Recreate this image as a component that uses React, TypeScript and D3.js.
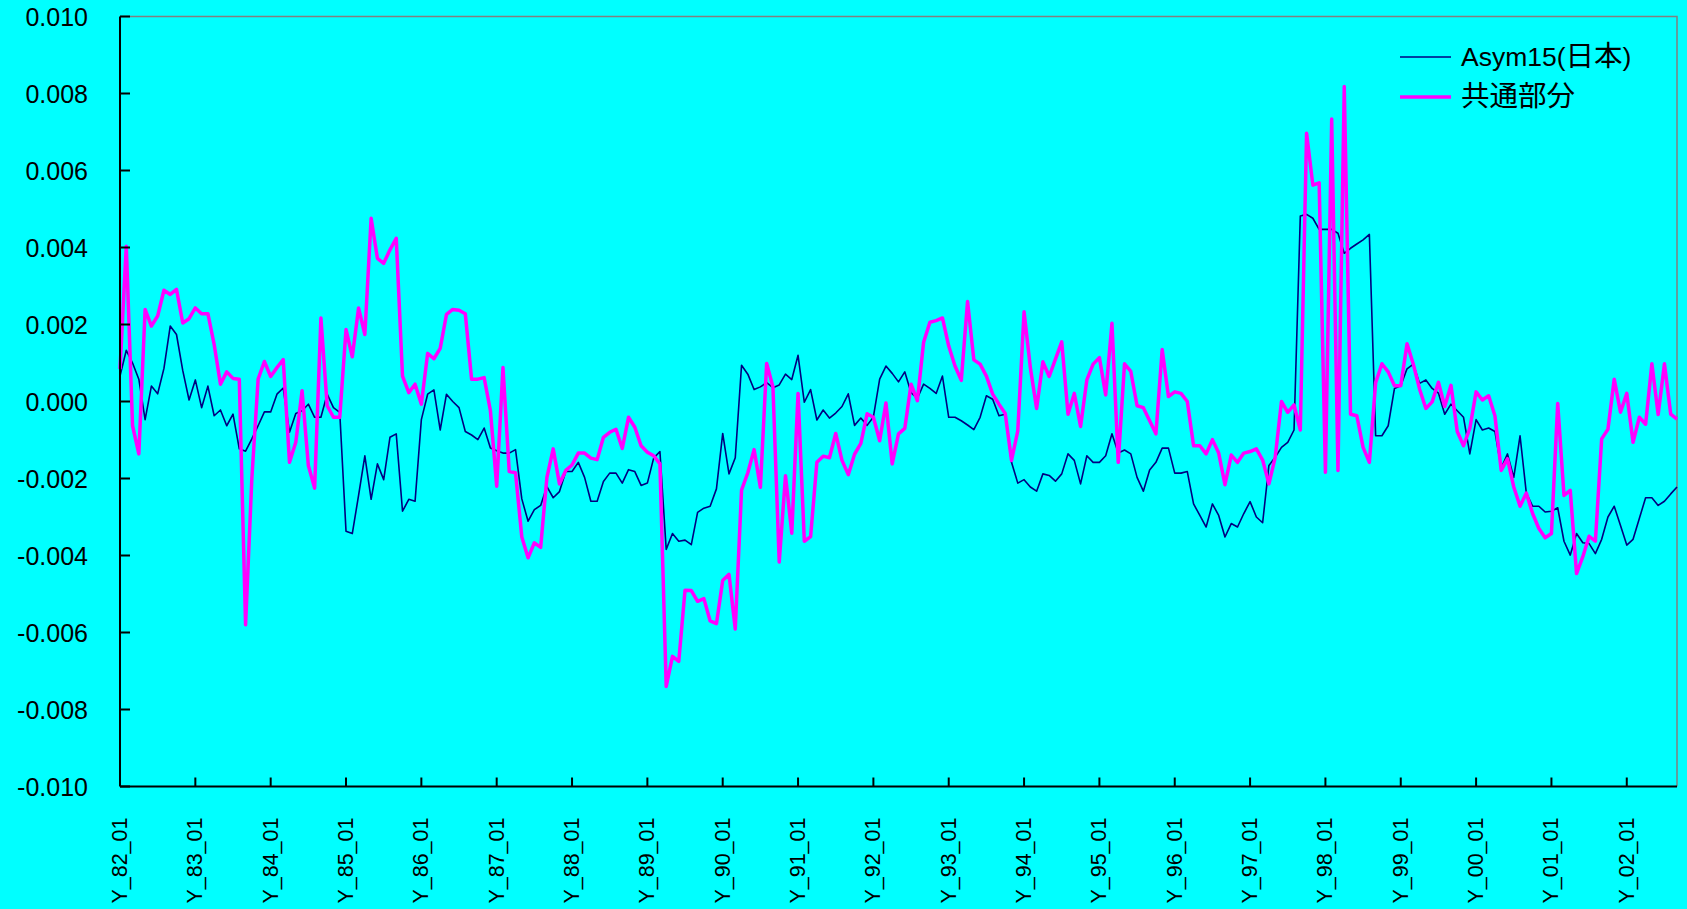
import { useRef, useEffect } from "react";
import * as d3 from "d3";

// monthly values, in units of 0.001, Y_82_01 .. Y_02_09
const ASYM15 = [
  0.66, 1.33, 1.0, 0.58, -0.47, 0.4, 0.2, 0.86, 1.96, 1.74, 0.8, 0.04,
  0.56, -0.16, 0.4, -0.37, -0.22, -0.63, -0.33, -1.23, -1.29, -0.97, -0.63, -0.27,
  -0.27, 0.19, 0.35, -0.8, -0.31, -0.24, -0.07, -0.41, -0.41, 0.19, -0.16, -0.28,
  -3.37, -3.43, -2.44, -1.41, -2.54, -1.62, -2.03, -0.93, -0.84, -2.85, -2.54, -2.59,
  -0.47, 0.19, 0.3, -0.74, 0.19, 0.0, -0.16, -0.78, -0.87, -0.99, -0.69, -1.21,
  -1.28, -1.34, -1.34, -1.25, -2.53, -3.11, -2.81, -2.7, -2.21, -2.5, -2.34, -1.82,
  -1.82, -1.58, -1.97, -2.59, -2.59, -2.08, -1.86, -1.86, -2.12, -1.77, -1.82, -2.18,
  -2.12, -1.47, -1.3, -3.84, -3.43, -3.63, -3.6, -3.72, -2.88, -2.77, -2.72, -2.27,
  -0.83, -1.88, -1.46, 0.94, 0.71, 0.31, 0.38, 0.49, 0.36, 0.43, 0.71, 0.57,
  1.2, -0.02, 0.31, -0.48, -0.22, -0.43, -0.3, -0.13, 0.2, -0.62, -0.43, -0.62,
  -0.4, 0.58, 0.92, 0.73, 0.51, 0.77, 0.23, 0.08, 0.45, 0.34, 0.21, 0.66,
  -0.41, -0.41, -0.5, -0.61, -0.73, -0.41, 0.15, 0.06, -0.37, -0.33, -1.58, -2.12,
  -2.03, -2.22, -2.33, -1.88, -1.92, -2.07, -1.88, -1.36, -1.53, -2.14, -1.41, -1.58,
  -1.58, -1.41, -0.84, -1.34, -1.26, -1.36, -1.97, -2.33, -1.78, -1.58, -1.21, -1.21,
  -1.86, -1.86, -1.82, -2.66, -2.96, -3.26, -2.66, -2.96, -3.52, -3.17, -3.26, -2.91,
  -2.6, -3.0, -3.15, -1.66, -1.45, -1.19, -1.06, -0.74, 4.82, 4.86, 4.76, 4.47,
  4.47, 4.47, 4.37, 3.85, 3.98, 4.09, 4.2, 4.34, -0.89, -0.89, -0.63, 0.34,
  0.41, 0.85, 0.97, 0.47, 0.56, 0.34, 0.22, -0.33, -0.07, -0.24, -0.41, -1.36,
  -0.47, -0.74, -0.69, -0.78, -1.73, -1.36, -1.97, -0.89, -2.38, -2.72, -2.72, -2.87,
  -2.85, -2.76, -3.63, -3.99, -3.43, -3.67, -3.69, -3.95, -3.58, -3.0, -2.72, -3.22,
  -3.73, -3.58, -3.04, -2.5, -2.5, -2.7, -2.59, -2.4, -2.22,
];

const COMMON = [
  0.84, 4.03, -0.63, -1.36, 2.39, 1.96, 2.22, 2.89, 2.78, 2.91, 2.04, 2.15,
  2.43, 2.28, 2.28, 1.48, 0.45, 0.77, 0.6, 0.58, -5.8, -2.0, 0.58, 1.04,
  0.65, 0.88, 1.09, -1.58, -1.06, 0.28, -1.66, -2.25, 2.17, -0.11, -0.41, -0.41,
  1.87, 1.16, 2.43, 1.74, 4.76, 3.72, 3.59, 3.94, 4.24, 0.66, 0.23, 0.45,
  -0.07, 1.25, 1.11, 1.38, 2.26, 2.39, 2.37, 2.28, 0.58, 0.58, 0.62, -0.24,
  -2.2, 0.88, -1.82, -1.85, -3.52, -4.06, -3.67, -3.79, -1.97, -1.23, -2.14, -1.79,
  -1.65, -1.34, -1.34, -1.47, -1.51, -0.93, -0.8, -0.72, -1.22, -0.41, -0.67, -1.15,
  -1.32, -1.41, -1.62, -7.4, -6.62, -6.75, -4.9, -4.91, -5.19, -5.12, -5.7, -5.77,
  -4.65, -4.49, -5.91, -2.3, -1.85, -1.25, -2.23, 0.99, 0.38, -4.17, -1.93, -3.42,
  0.21, -3.63, -3.51, -1.58, -1.42, -1.46, -0.83, -1.53, -1.9, -1.37, -1.09, -0.32,
  -0.41, -1.02, -0.04, -1.62, -0.84, -0.7, 0.45, 0.02, 1.54, 2.06, 2.1, 2.17,
  1.44, 0.92, 0.55, 2.6, 1.08, 0.97, 0.66, 0.19, -0.07, -0.31, -1.53, -0.76,
  2.33, 0.88, -0.18, 1.03, 0.65, 1.1, 1.55, -0.33, 0.21, -0.65, 0.56, 0.97,
  1.14, 0.17, 2.03, -1.58, 0.98, 0.78, -0.11, -0.16, -0.5, -0.84, 1.35, 0.13,
  0.25, 0.21, 0.0, -1.15, -1.15, -1.36, -0.99, -1.34, -2.16, -1.39, -1.58, -1.34,
  -1.3, -1.23, -1.52, -2.14, -1.45, 0.0, -0.28, -0.09, -0.74, 6.97, 5.62, 5.68,
  -1.84, 7.34, -1.79, 8.18, -0.33, -0.37, -1.19, -1.58, 0.49, 0.98, 0.77, 0.41,
  0.41, 1.5, 0.97, 0.32, -0.18, -0.01, 0.5, -0.13, 0.42, -0.78, -1.15, -0.7,
  0.25, 0.04, 0.15, -0.37, -1.79, -1.49, -2.22, -2.72, -2.38, -2.91, -3.3, -3.54,
  -3.43, -0.05, -2.44, -2.31, -4.47, -4.03, -3.5, -3.63, -0.97, -0.72, 0.58, -0.28,
  0.21, -1.06, -0.41, -0.59, 0.98, -0.34, 0.98, -0.33, -0.46,
];

const YEARS = [
  "82", "83", "84", "85", "86", "87", "88", "89", "90", "91", "92",
  "93", "94", "95", "96", "97", "98", "99", "00", "01", "02",
];
const Y_TICKS = [-10, -8, -6, -4, -2, 0, 2, 4, 6, 8, 10];
// legend entries split into latin / CJK runs (CJK drawn a bit larger)
const SERIES_NAMES: [string, string, string][] = [
  ["Asym15(", "日本", ")"],
  ["", "共通部分", ""],
];

const FONT = "'Liberation Sans', Arial, 'Noto Sans CJK JP', sans-serif";
const CJK = "'Noto Sans CJK JP', sans-serif";

export default function App() {
  const ref = useRef<SVGSVGElement>(null);

  useEffect(() => {
    if (!ref.current) return;
    const W = 1687, H = 909;
    const left = 120, right = 1677, top = 16.5, bottom = 786.5;

    const svg = d3.select(ref.current);
    svg.selectAll("*").remove();
    svg.attr("width", W).attr("height", H);

    svg.append("rect").attr("width", W).attr("height", H).attr("fill", "#00ffff");

    const n = ASYM15.length;
    const x = d3.scaleLinear().domain([0, n - 1]).range([left, right]);
    const y = d3.scaleLinear().domain([-10, 10]).range([bottom, top]);

    // plot border (grey top / right)
    svg.append("path")
      .attr("d", `M${left},${top}H${right}V${bottom}`)
      .attr("fill", "none").attr("stroke", "#808080").attr("stroke-width", 1.5);

    // lines
    const line = d3.line<number>().x((_, i) => x(i)).y((d) => y(d));
    svg.append("path").datum(ASYM15).attr("d", line)
      .attr("fill", "none").attr("stroke", "#000080").attr("stroke-width", 1.6)
      .attr("stroke-linejoin", "round");
    svg.append("path").datum(COMMON).attr("d", line)
      .attr("fill", "none").attr("stroke", "#ff00ff").attr("stroke-width", 3.5)
      .attr("stroke-linejoin", "round");

    // axes
    svg.append("line").attr("x1", left).attr("x2", left).attr("y1", top).attr("y2", bottom)
      .attr("stroke", "#000").attr("stroke-width", 2);
    svg.append("line").attr("x1", left).attr("x2", right).attr("y1", bottom).attr("y2", bottom)
      .attr("stroke", "#000").attr("stroke-width", 2);

    Y_TICKS.forEach((t) => {
      svg.append("line").attr("x1", left).attr("x2", left + 10).attr("y1", y(t)).attr("y2", y(t))
        .attr("stroke", "#000").attr("stroke-width", 2);
      svg.append("text").attr("x", 88).attr("y", y(t)).attr("text-anchor", "end")
        .attr("dominant-baseline", "central").attr("font-family", FONT).attr("font-size", 25)
        .attr("fill", "#000").text((t / 1000).toFixed(3));
    });

    YEARS.forEach((yr, k) => {
      const xi = x(k * 12);
      if (k > 0) {
        svg.append("line").attr("x1", xi).attr("x2", xi).attr("y1", bottom).attr("y2", bottom - 9)
          .attr("stroke", "#000").attr("stroke-width", 2);
      }
      svg.append("text")
        .attr("transform", `translate(${xi},${bottom + 31}) rotate(-90)`)
        .attr("text-anchor", "end").attr("dominant-baseline", "central")
        .attr("font-family", FONT).attr("font-size", 21.5).attr("fill", "#000")
        .text(`Y_${yr}_01`);
    });

    // legend
    const colors = ["#000080", "#ff00ff"];
    const widths = [1.6, 3.5];
    SERIES_NAMES.forEach(([pre, cjk, post], k) => {
      const ly = 57 + k * 40;
      svg.append("line").attr("x1", 1400).attr("x2", 1451).attr("y1", ly).attr("y2", ly)
        .attr("stroke", colors[k]).attr("stroke-width", widths[k]);
      const t = svg.append("text").attr("x", 1461).attr("y", ly + 9)
        .attr("font-family", FONT).attr("font-size", 26.5).attr("fill", "#000");
      if (pre) t.append("tspan").text(pre);
      t.append("tspan").attr("font-family", CJK).attr("font-size", 28.5).text(cjk);
      if (post) t.append("tspan").text(post);
    });
  }, []);

  return <svg ref={ref} style={{ position: "absolute", left: 0, top: 0, display: "block" }} />;
}
